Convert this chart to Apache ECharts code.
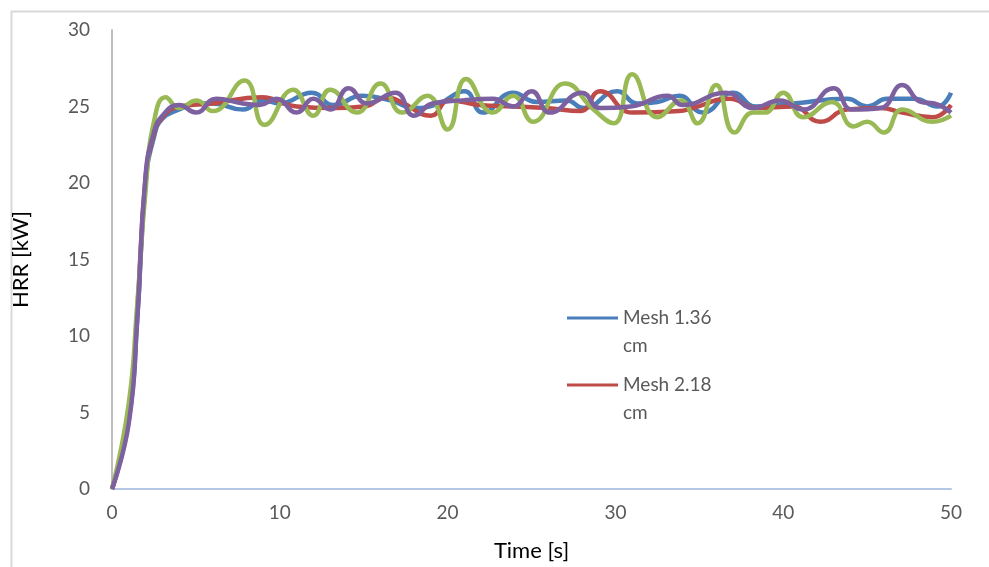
<!DOCTYPE html>
<html>
<head>
<meta charset="utf-8">
<script src="https://cdn.jsdelivr.net/npm/echarts@6/dist/echarts.min.js"></script>
<style>
    html, body { margin: 0; padding: 0; background: #fff; }
    #chart { width: 989px; height: 567px; }
</style>
</head>
<body>
<div id="chart"></div>
<script>
    'use strict'

    /*-----data-----*/
    var xTicks = [0, 10, 20, 30, 40, 50];
    var yTicks = [0, 5, 10, 15, 20, 25, 30];

    var timeBlue = [0, 1, 1.5, 2, 2.5, 3, 4, 5, 6, 7.8, 9, 10, 11.9, 13.2, 14.9, 16.6, 18, 19.5, 21, 22.1, 23.9, 25.3, 27.1, 28.1, 30.1, 31.3, 32.5, 33.8, 35.2, 37, 38.4, 40.6, 43.8, 45, 46.2, 47.8, 49.2, 50];
    var hrrBlue = [0, 4.5, 11, 20, 23, 24.2, 24.8, 25.2, 25.2, 24.8, 25.4, 25.2, 25.9, 25.1, 25.7, 25.4, 24.9, 25.2, 26, 24.6, 25.9, 25.3, 25.4, 24.9, 26, 25.2, 25.3, 25.7, 24.6, 25.9, 25, 25.2, 25.5, 25, 25.5, 25.5, 25, 25.9];

    var timeRed = [0, 1, 1.5, 2, 2.5, 3, 4, 6, 8.9, 11, 13.2, 15, 16.4, 17.2, 19, 20.1, 21.9, 23.9, 25.9, 27.9, 29.1, 31, 33.8, 34.6, 36.8, 38.4, 40.6, 42.2, 43.8, 45.8, 47.1, 48.9, 50];
    var hrrRed = [0, 4.8, 11.5, 20.3, 23.2, 24.3, 25, 25.2, 25.6, 25, 24.9, 25, 25.6, 25.3, 24.4, 25.4, 25.1, 25, 24.9, 24.7, 26, 24.6, 24.7, 24.9, 25.5, 24.9, 25, 24, 24.8, 24.9, 24.6, 24.3, 25.1];

    var timeGreen = [0, 1, 1.5, 2, 2.5, 3.2, 4, 5.05, 6, 7.9, 9.1, 10.8, 12, 13, 14.6, 16, 17.3, 18.8, 20, 21.1, 22.7, 23.9, 25.1, 27, 28.7, 29.9, 31, 32.5, 33.9, 34.9, 36, 37.1, 38.2, 38.9, 40, 41.2, 42.9, 44.2, 45, 46, 47.1, 48.9, 50];
    var hrrGreen = [0, 5.6, 12, 19.5, 24, 25.6, 24.9, 25.4, 24.7, 26.7, 23.8, 26.1, 24.4, 26.1, 24.6, 26.5, 24.6, 25.7, 23.5, 26.8, 24.6, 25.7, 24, 26.5, 24.8, 23.9, 27.1, 24.3, 25.4, 23.9, 26.4, 23.3, 24.6, 24.6, 25.9, 24.3, 25.3, 23.7, 24, 23.3, 24.8, 24, 24.4];

    var timePurple = [0, 1, 1.5, 2, 2.5, 3, 4, 5, 6.2, 7.8, 8.8, 9.8, 11, 12, 13, 14.1, 15.2, 16.9, 18, 19.1, 20.9, 22.7, 23.9, 25, 26.1, 28, 29.1, 30.9, 33.1, 34, 36.6, 38.2, 39.8, 41.2, 43, 44.1, 45.8, 47.1, 48.2, 49, 50];
    var hrrPurple = [0, 4.3, 11, 20.5, 23.3, 24.4, 25.1, 24.6, 25.5, 25.2, 25.1, 25.5, 24.6, 25.5, 24.8, 26.2, 25.2, 25.9, 24.4, 25.2, 25.4, 25.5, 25, 26, 24.6, 25.9, 24.9, 25, 25.7, 25.1, 25.9, 24.9, 25.4, 24.8, 26.2, 24.8, 24.9, 26.4, 25.3, 25.2, 24.6];

    var seriesNames = ['Mesh 1.36\ncm', 'Mesh 2.18\ncm', 'Mesh 3\ncm', 'Mesh 4\ncm'];
    var legendNames = ['Mesh 1.36\ncm', 'Mesh 2.18\ncm'];

    function pairs(xs, ys) {
        return xs.map(function (x, i) { return [x, ys[i]]; });
    }

    var textColor = '#595959';
    var fontName = 'Lato';

    function lineSeries(name, xs, ys, color) {
        return {
            name: name,
            type: 'line',
            smooth: 0.5,
            showSymbol: false,
            symbol: 'none',
            data: pairs(xs, ys),
            lineStyle: { width: 4.5, color: color },
            itemStyle: { color: color }
        };
    }

    var chart = document.getElementById('chart');
    var lineChart = echarts.init(chart);
    var option = {
        animation: false,
        backgroundColor: '#ffffff',
        graphic: [{
            type: 'rect',
            left: 9,
            top: 9,
            shape: { width: 1000, height: 600 },
            style: { fill: 'none', stroke: '#d9d9d9', lineWidth: 2 }
        }],
        grid: {
            top: 30,
            right: 38,
            bottom: 78,
            left: 112
        },
        legend: {
            data: legendNames,
            orient: 'vertical',
            left: 562,
            top: 271,
            itemWidth: 51,
            itemHeight: 3,
            itemGap: -17,
            icon: 'rect',
            // blank first line keeps the icon level with "Mesh ..."
            formatter: function (name) {
                return ' \n' + name;
            },
            textStyle: {
                fontFamily: fontName,
                fontSize: 19,
                color: textColor,
                lineHeight: 28
            }
        },
        xAxis: {
            type: 'value',
            min: xTicks[0],
            max: xTicks[xTicks.length - 1],
            interval: 10,
            name: 'Time [s]',
            nameLocation: 'middle',
            nameGap: 51,
            nameTextStyle: { fontFamily: fontName, fontSize: 22, color: '#000' },
            axisLine: { lineStyle: { color: '#b4c7e7', width: 2 } },
            axisTick: { show: false },
            splitLine: { show: false },
            axisLabel: { fontFamily: fontName, fontSize: 19, color: textColor, margin: 14 }
        },
        yAxis: {
            type: 'value',
            min: yTicks[0],
            max: yTicks[yTicks.length - 1],
            interval: 5,
            name: 'HRR [kW]',
            nameLocation: 'middle',
            nameGap: 80,
            nameTextStyle: { fontFamily: fontName, fontSize: 22, color: '#000' },
            axisLine: { show: true, lineStyle: { color: '#bfbfbf', width: 2 } },
            axisTick: { show: false },
            splitLine: { show: false },
            axisLabel: { fontFamily: fontName, fontSize: 19, color: textColor, margin: 22 }
        },
        series: [
            lineSeries(seriesNames[0], timeBlue, hrrBlue, '#4a7ebb'),
            lineSeries(seriesNames[1], timeRed, hrrRed, '#be4b48'),
            lineSeries(seriesNames[2], timeGreen, hrrGreen, '#98b954'),
            lineSeries(seriesNames[3], timePurple, hrrPurple, '#7d60a0')
        ]
    };
    lineChart.setOption(option);
    window.addEventListener('resize', function () {
        lineChart.resize();
    })
</script>
</body>
</html>
